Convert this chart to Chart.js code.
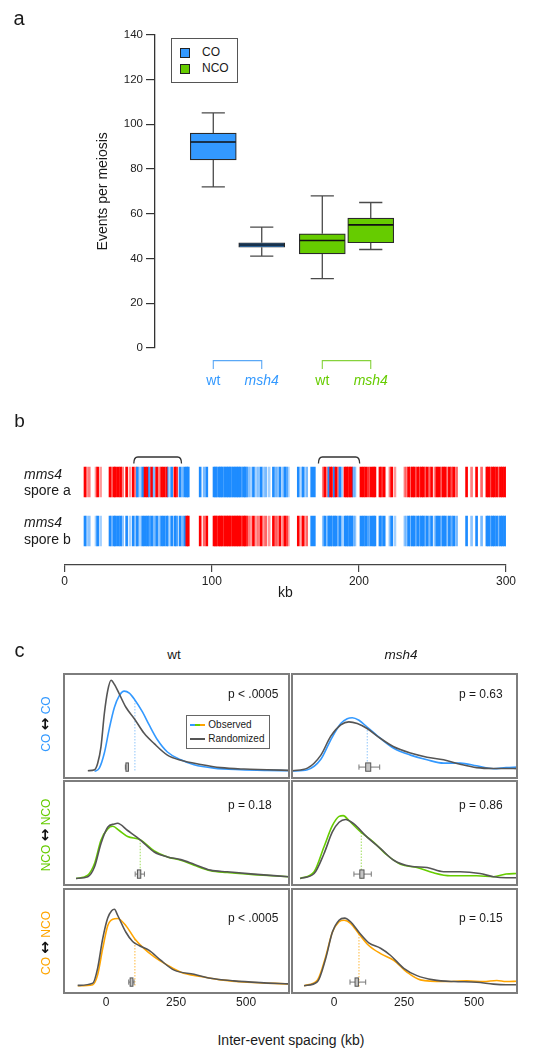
<!DOCTYPE html>
<html><head><meta charset="utf-8">
<script src="https://cdn.jsdelivr.net/npm/chart.js@4.4.1/dist/chart.umd.min.js"></script>
<style>
body{margin:0;background:#fff;width:537px;height:1050px;position:relative;overflow:hidden;font-family:'Liberation Sans',Arial,Helvetica,sans-serif;color:#1a1a1a}
canvas{position:absolute}
.t{position:absolute;white-space:nowrap;line-height:1;transform:translate(-50%,-50%)}
.l{position:absolute;white-space:nowrap;line-height:1;transform:translate(0,-50%)}
</style></head><body>
<script>
// ================= DATA =================
// Panel a: box plots
const boxGroup = ['CO','CO','NCO','NCO'];
const boxGeno  = ['wt','msh4','wt','msh4'];
const boxLow  = [72, 41, 31, 44];
const boxQ1   = [84, 45, 42, 47];
const boxMed  = [92, 46, 48, 55];
const boxQ3   = [96, 47, 51, 58];
const boxHigh = [105, 54, 68, 65];
const yTicksA = [0, 20, 40, 60, 80, 100, 120, 140];

// Panel b: marker positions (kb), genotype per spore (R = red parent, B = blue parent), marker intensity
const markerKb = [
 13.8,14.9,16.7,21.3,22.4,24.4,30.8,31.9,33.5,34.6,36.4,38.0,39.4,42.1,44.4,46.6,
 48.5,49.4,51.2,53.0,54.6,56.2,57.5,59.1,60.7,62.5,64.3,65.9,67.5,69.3,70.4,72.7,74.9,76.1,78.4,80.2,81.8,83.0,84.0,
 92.1,94.8,96.6,
 101.5,102.6,103.5,104.8,105.9,107.0,108.1,109.0,110.2,111.3,112.5,113.4,114.6,115.8,117.0,118.1,119.3,120.4,121.6,122.7,123.7,
 124.9,126.5,128.3,130.1,131.7,133.5,135.1,136.7,139.0,141.9,143.7,145.0,146.4,148.7,149.8,150.9,152.0,
 158.8,161.1,162.2,164.5,167.9,169.7,
 175.8,176.9,178.7,179.6,180.8,181.9,183.3,184.4,186.0,187.1,188.3,190.5,191.7,192.8,193.9,195.1,196.2,197.3,
 201.4,203.0,204.6,206.4,208.2,209.8,210.9,214.3,215.5,217.2,
 221.1,222.3,224.5,
 231.3,232.5,233.8,235.0,236.3,237.5,238.6,240.0,241.2,242.5,243.8,245.0,246.3,247.8,249.4,
 251.7,253.0,254.5,256.0,257.3,258.6,260.0,261.5,263.0,264.5,266.4,
 273.2,276.6,280.0,283.4,
 287.0,288.2,289.5,290.8,292.0,293.6,295.0,296.3,297.6,299.0,300.3,301.6,303.0,304.0
];
const sporeA = (
 'RRRRRRRRRRRRRRRR' +
 'RBBBRRBRBRRRRRBBRRBBBBB' +
 'BBB' +
 'BBBBBBBBBBBBBBBBBBBBB' +
 'BBBBBBBBBBBBBBBBB' +
 'BBBBBB' +
 'RRRBRRBRRBBRRRRRBB' +
 'RRRRRRRRRR' + 'RRR' + 'RRRRRRRRRRRRRRR' + 'RRRRRRRRRRR' + 'RRRR' + 'RRRRRRRRRRRRRR').split('');
const sporeB = (
 'BBBBBBBBBBBBBBBB' +
 'BBBBBBBBBBBBBBBBBBBBBRR' +
 'RRR' +
 'RRRRRRRRRRRRRRRRRRRRR' +
 'RRRRRRRRRRRRRRRRR' +
 'RRRRBB' +
 'BBBBBBBBBBBBBBBBBB' +
 'BBBBBBBBBB' + 'BBB' + 'BBBBBBBBBBBBBBB' + 'BBBBBBBBBBB' + 'BBBB' + 'BBBBBBBBBBBBBB').split('');
const markerAlpha = [
 1,.4,.5,.4,1,.4,1,.5,1,1,1,1,.5,1,.4,1,
 .5,1,.4,1,1,1,.8,1,.6,1,.5,1,1,1,.6,1,1,.8,1,.6,1,1,1,
 1,.6,1,
 1,1,.7,1,1,1,.6,1,1,1,1,.7,1,1,1,1,1,.6,1,1,.7,
 .5,.4,1,.4,.5,1,.4,.6,.4,1,.6,.4,1,.5,1,.6,.4,
 1,.5,1,.6,1,1,
 .5,1,.5,1,1,.8,1,1,.5,1,.4,1,1,.8,1,1,.5,.5,
 1,1,1,.8,1,1,1,1,.8,1,
 .5,1,.4,
 .5,.4,1,.6,1,1,.5,1,.7,1,1,.5,1,.6,1,
 .5,1,1,.6,1,1,.5,1,.7,1,.6,
 1,.5,1,.6,
 1,1,.7,1,1,1,.6,1,1,1,.7,1,1,1
];
const brackets = [[47, 79.4], [172.5, 200.5]];
const xTicksB = [0, 100, 200, 300];

// Panel c: density curves (x in kb, y in relative density)
const wtCOrandX = [-65,-41,-30,-18,-6,6,18,30,47,71,101,136,172,219,267,338,409,492,575,652];
const wtCOrandY = [7,8,14,30,62,84,94,90,81,68,57,43,33,22,17,13,10,8.6,8,7.3];
const wtCOobsX  = [-41,-24,-6,12,30,47,65,83,103,130,154,184,219,267,314,385,480,575,652];
const wtCOobsY  = [6.3,9.5,24,48,68,79,83.5,81.6,75,63.5,51,36.5,25,17.5,12.7,9.5,8,7.3,7];

const mCOrandX = [-148,-95,-47,-12,24,53,83,118,166,213,273,332,391,450,509,569,614,653];
const mCOrandY = [7,9.5,22,40,51,54,52.4,47.6,38,30,24,20,17.5,13.3,10,9.2,9.2,9];
const mCOobsX  = [-148,-95,-47,-12,24,47,65,89,118,166,213,273,332,391,450,509,569,614,653];
const mCOobsY  = [6.7,8,18,36.5,52.4,57,58,55.5,49,38,28.6,22,17.5,14.3,14.3,11.7,8.9,10,10.5];

const wtNCOrandX = [-107,-65,-41,-18,6,30,41,77,124,172,219,267,314,373,432,527,652];
const wtNCOrandY = [6.3,8,17.5,40,55.5,58.7,59.4,52.4,43,31.7,27,24.4,20,14.3,12.7,10.5,8];
const wtNCOobsX  = [-107,-65,-41,-18,6,24,47,77,122,172,219,267,314,373,432,527,652];
const wtNCOobsY  = [6.3,9.5,20.6,43,54,56.5,52.4,46.7,43.5,32.7,27,23.8,19,13.7,12,10,8];

const mNCOrandX = [-121,-71,-36,-6,18,41,71,118,166,213,273,332,391,450,521,569,614,653];
const mNCOrandY = [6.3,11,30,51,60.3,63,58.7,46,35,23.8,18,16.8,12.7,12.7,11,8,7,7];
const mNCOobsX  = [-121,-71,-36,-6,18,33,53,95,142,190,237,296,355,415,509,569,614,653];
const mNCOobsY  = [6.3,12.7,36.5,57,66,66.7,62,51,41,28.6,20,16.8,11.7,8.9,8.9,8,10.5,11];

const wtMixRandX = [-101,-47,-30,-12,6,20,30,41,71,95,118,154,195,243,314,373,456,551,652];
const wtMixRandY = [7.3,9.5,23.7,52,72,79,80.5,75,58.4,49.5,45.7,41,31.5,22,18,14.2,11.7,10,8.8];
const wtMixObsX  = [-101,-47,-30,-12,6,24,41,71,103,136,172,219,267,338,409,504,652];
const wtMixObsY  = [7,8,17.4,42.6,64.7,71,71.6,64.7,52,42.6,34.7,26.8,20,15.8,12.6,10.4,8.8];

const mMixRandX = [-107,-59,-30,-6,18,38,59,89,124,166,201,249,296,355,427,509,569,614,653];
const mMixRandY = [7,11,33,58.4,70,72,68.5,58.4,48.3,43,36.3,23.7,16.7,12.6,11,10.4,8.5,7.9,7.9];
const mMixObsX  = [-107,-59,-30,-6,18,36,59,89,124,166,213,261,308,391,474,533,581,614,653];
const mMixObsY  = [7,12.6,34.7,58.4,68.5,70,67,56.8,45.7,37.9,31.5,19.9,12.6,11,11.7,11,12,11,11.3];

// observed medians [kb, density at curve], randomized medians box [low, q1, q3, high]
const obsMedian = [[103,75],[118.6,49],[122,43.5],[97.3,50.5],[103,52],[89,56.8]];
const randBox   = [[69,71,76,78],[89,113,131,163],[104,112,124,137],[71,92,107,133],[81,86,96,100],[57,75,87,113]];
const pValues   = ['p < .0005','p = 0.63','p = 0.18','p = 0.86','p < .0005','p = 0.15'];
const xTicksC   = [0, 250, 500];

// ================= STYLE / LAYOUT =================
const FONT = "'Liberation Sans', Arial, Helvetica, sans-serif";
Chart.defaults.font.family = FONT;
Chart.defaults.color = '#1a1a1a';
const C = {CO:'#3399ff', NCO:'#66cc00', MIX:'#ffa500'};
const CLight = {CO:'#9acbfb', NCO:'#a6e06a', MIX:'#ffbf4d'};
const GREY = '#555555';

function mkCanvas(x, y, w, h){
  const c = document.createElement('canvas');
  c.width = w; c.height = h;
  c.style.left = x + 'px'; c.style.top = y + 'px';
  c.style.width = w + 'px'; c.style.height = h + 'px';
  document.body.appendChild(c);
  return c;
}
function txt(html, x, y, css, cls){
  const d = document.createElement('div');
  d.className = cls || 't';
  d.innerHTML = html;
  d.style.left = x + 'px'; d.style.top = y + 'px';
  if (css) d.style.cssText += css;
  document.body.appendChild(d);
  return d;
}
const base = {responsive:false, animation:false, devicePixelRatio:1, events:[],
  plugins:{legend:{display:false}, tooltip:{enabled:false}, title:{display:false}}};

// ================= PANEL A =================
const boxPos = [1, 2, 3.25, 4.25];
const boxPlugin = {
  id:'boxPlugin',
  afterDatasetsDraw(chart){
    const {ctx, scales:{x, y}} = chart;
    ctx.save();
    boxGroup.forEach((g, i) => {
      const px = x.getPixelForValue(boxPos[i]);
      ctx.strokeStyle = '#4a4a4a'; ctx.lineWidth = 1.3;
      ctx.beginPath();
      ctx.moveTo(px, y.getPixelForValue(boxHigh[i])); ctx.lineTo(px, y.getPixelForValue(boxQ3[i]));
      ctx.moveTo(px, y.getPixelForValue(boxQ1[i])); ctx.lineTo(px, y.getPixelForValue(boxLow[i]));
      ctx.moveTo(px-11.6, y.getPixelForValue(boxHigh[i])); ctx.lineTo(px+11.6, y.getPixelForValue(boxHigh[i]));
      ctx.moveTo(px-11.6, y.getPixelForValue(boxLow[i])); ctx.lineTo(px+11.6, y.getPixelForValue(boxLow[i]));
      ctx.stroke();
      ctx.strokeStyle = '#111'; ctx.lineWidth = 1.6;
      ctx.beginPath();
      ctx.moveTo(px-22.5, y.getPixelForValue(boxMed[i])); ctx.lineTo(px+22.5, y.getPixelForValue(boxMed[i]));
      ctx.stroke();
    });
    // group brackets and genotype labels
    const yb = y.bottom;
    [[0,1],[2,3]].forEach(([a,b]) => {
      const g = boxGroup[a];
      const xa = x.getPixelForValue(boxPos[a]), xb = x.getPixelForValue(boxPos[b]);
      ctx.strokeStyle = g === 'CO' ? '#5aa8f6' : '#86d23c'; ctx.lineWidth = 1.1;
      ctx.beginPath();
      ctx.moveTo(xa, yb+21); ctx.lineTo(xa, yb+12.6); ctx.lineTo(xb, yb+12.6); ctx.lineTo(xb, yb+21);
      ctx.stroke();
    });
    ctx.textAlign = 'center'; ctx.textBaseline = 'middle';
    boxGeno.forEach((gt, i) => {
      ctx.fillStyle = C[boxGroup[i]];
      ctx.font = (gt === 'wt' ? '' : 'italic ') + '14px ' + FONT;
      ctx.fillText(gt, x.getPixelForValue(boxPos[i]), yb + 33);
    });
    ctx.restore();
  }
};
new Chart(mkCanvas(0, 0, 537, 400), {
  type:'bar',
  data:{datasets:[{
    data: boxGroup.map((g, i) => ({x: boxPos[i], y: [boxQ1[i], boxQ3[i]]})),
    backgroundColor: boxGroup.map(g => C[g]),
    borderColor:'#2a2a2a', borderWidth:1.2, borderSkipped:false, barThickness:46, grouped:false
  }]},
  options:{...base,
    layout:{padding:{left:91, top:34.6, right:107, bottom:52}},
    scales:{
      x:{type:'linear', min:0.27, max:5, display:false},
      y:{min:0, max:140,
         afterBuildTicks: s => { s.ticks = yTicksA.map(v => ({value:v})); },
         afterFit: s => { s.width = 64; },
         grid:{display:true, drawOnChartArea:false, drawTicks:true, tickLength:9, color:'#333', lineWidth:1.2},
         border:{display:true, color:'#333', width:1.3},
         ticks:{padding:3, color:'#222', font:{size:11.5}},
         title:{display:true, text:'Events per meiosis', font:{size:14}, color:'#1a1a1a', padding:{top:4, bottom:4}}}
    }},
  plugins:[boxPlugin]
});
txt('a', 19, 18, 'font-size:20px');
// legend panel a
(function(){
  const lg = document.createElement('div');
  lg.style.cssText = 'position:absolute;left:171px;top:38px;width:65px;height:43px;border:1px solid #555;background:#fff';
  document.body.appendChild(lg);
  [['CO',52],['NCO',68]].forEach(([k, yy]) => {
    const sq = document.createElement('div');
    sq.style.cssText = `position:absolute;left:180px;top:${yy-4.5}px;width:8px;height:8px;border:1px solid #222;background:${C[k]}`;
    document.body.appendChild(sq);
    txt(k, 202, yy, 'font-size:12px', 'l');
  });
})();

// ================= PANEL B =================
const colRB = (g, a) => g === 'R' ? `rgba(255,0,0,${a})` : `rgba(30,140,255,${a})`;
const rowA = [68, 98], rowB = [19, 49];
const bracketPlugin = {
  id:'bracketPlugin',
  afterDraw(chart){
    const {ctx, scales:{x, y}} = chart;
    ctx.save(); ctx.strokeStyle = '#333'; ctx.lineWidth = 1.3;
    brackets.forEach(([a, b]) => {
      const xa = x.getPixelForValue(a), xb = x.getPixelForValue(b);
      const yt = y.getPixelForValue(108), ye = y.getPixelForValue(101.5);
      ctx.beginPath();
      ctx.moveTo(xa, ye); ctx.quadraticCurveTo(xa, yt, xa + 4, yt);
      ctx.lineTo(xb - 4, yt); ctx.quadraticCurveTo(xb, yt, xb, ye);
      ctx.stroke();
    });
    ctx.restore();
  }
};
new Chart(mkCanvas(0, 440, 537, 170), {
  type:'bar',
  data:{datasets:[
    {data: markerKb.map(k => ({x:k, y:rowA})), backgroundColor: sporeA.map((g,i) => colRB(g, markerAlpha[i])), barThickness:2, grouped:false, borderWidth:0},
    {data: markerKb.map(k => ({x:k, y:rowB})), backgroundColor: sporeB.map((g,i) => colRB(g, markerAlpha[i])), barThickness:2, grouped:false, borderWidth:0}
  ]},
  options:{...base,
    layout:{padding:{left:64.7, right:31, top:15, bottom:0}},
    scales:{
      x:{type:'linear', min:0, max:300, offset:false,
         afterBuildTicks: s => { s.ticks = xTicksB.map(v => ({value:v})); },
         afterFit: s => { s.height = 45; },
         grid:{display:true, offset:false, drawOnChartArea:false, drawTicks:true, tickLength:7, color:'#444', lineWidth:1.2},
         border:{display:true, color:'#444', width:1.3},
         ticks:{padding:2, color:'#222', font:{size:12}, maxRotation:0},
         title:{display:true, text:'kb', font:{size:14}, color:'#1a1a1a', padding:{top:0, bottom:8}}},
      y:{min:0, max:110, display:false}
    }},
  plugins:[bracketPlugin]
});
txt('b', 19.5, 420, 'font-size:19px');
txt('<i>mms4</i>', 24, 474, 'font-size:14px', 'l');
txt('spore a', 24, 489.5, 'font-size:14px', 'l');
txt('<i>mms4</i>', 24, 522, 'font-size:14px', 'l');
txt('spore b', 24, 539, 'font-size:14px', 'l');

// ================= PANEL C =================
const colX = [63.5, 291.5], rowY = [674, 781, 888.5];
const PW = 225, PH = 104;
const pTextDy = [21, 24.3, 29.2];
const panels = [
  {r:0, c:0, k:'CO',  rx:wtCOrandX,  ry:wtCOrandY,  ox:wtCOobsX,  oy:wtCOobsY},
  {r:0, c:1, k:'CO',  rx:mCOrandX,   ry:mCOrandY,   ox:mCOobsX,   oy:mCOobsY},
  {r:1, c:0, k:'NCO', rx:wtNCOrandX, ry:wtNCOrandY, ox:wtNCOobsX, oy:wtNCOobsY},
  {r:1, c:1, k:'NCO', rx:mNCOrandX,  ry:mNCOrandY,  ox:mNCOobsX,  oy:mNCOobsY},
  {r:2, c:0, k:'MIX', rx:wtMixRandX, ry:wtMixRandY, ox:wtMixObsX, oy:wtMixObsY},
  {r:2, c:1, k:'MIX', rx:mMixRandX,  ry:mMixRandY,  ox:mMixObsX,  oy:mMixObsY}
];
panels.forEach((p, i) => {
  const bottomRow = p.r === 2;
  const extra = bottomRow ? 25 : 0;
  const deco = {
    id:'deco'+i,
    beforeDatasetsDraw(chart){
      const {ctx, scales:{x, y}} = chart;
      ctx.save();
      const [mx, mt] = obsMedian[i];
      ctx.strokeStyle = CLight[p.k]; ctx.lineWidth = 1.1; ctx.setLineDash([1.5, 1.5]);
      ctx.beginPath();
      ctx.moveTo(x.getPixelForValue(mx), y.getPixelForValue(mt));
      ctx.lineTo(x.getPixelForValue(mx), y.getPixelForValue(6));
      ctx.stroke();
      ctx.setLineDash([]);
      const [lo, q1, q3, hi] = randBox[i];
      const yc = y.getPixelForValue(10.5), yt = y.getPixelForValue(14.5), yb = y.getPixelForValue(6.5);
      const yct = y.getPixelForValue(13), ycb = y.getPixelForValue(8);
      ctx.strokeStyle = '#777'; ctx.lineWidth = 1;
      ctx.beginPath();
      ctx.moveTo(x.getPixelForValue(lo), yc); ctx.lineTo(x.getPixelForValue(q1), yc);
      ctx.moveTo(x.getPixelForValue(q3), yc); ctx.lineTo(x.getPixelForValue(hi), yc);
      ctx.moveTo(x.getPixelForValue(lo), yct); ctx.lineTo(x.getPixelForValue(lo), ycb);
      ctx.moveTo(x.getPixelForValue(hi), yct); ctx.lineTo(x.getPixelForValue(hi), ycb);
      ctx.stroke();
      ctx.fillStyle = '#c4c4c4'; ctx.strokeStyle = '#555';
      const bx = x.getPixelForValue(q1), bw = Math.max(2.5, x.getPixelForValue(q3) - bx);
      ctx.fillRect(bx, yt, bw, yb - yt); ctx.strokeRect(bx, yt, bw, yb - yt);
      ctx.restore();
    },
    afterDraw(chart){
      const {ctx, chartArea:a} = chart;
      ctx.save();
      ctx.strokeStyle = '#7d7d7d'; ctx.lineWidth = 2;
      ctx.strokeRect(a.left, a.top, a.right - a.left, a.bottom - a.top);
      ctx.fillStyle = '#1a1a1a'; ctx.font = '12px ' + FONT;
      ctx.textAlign = 'left'; ctx.textBaseline = 'middle';
      ctx.fillText(pValues[i], a.left + 164 + (p.c ? 3 : 0), a.top + pTextDy[p.r]);
      ctx.restore();
    }
  };
  const xScale = {type:'linear', min:-150, max:653, display: bottomRow,
           afterBuildTicks: s => { s.ticks = xTicksC.map(v => ({value:v})); },
           grid:{display:false}, border:{display:false},
           ticks:{padding:-6, color:'#222', font:{size:12}, maxRotation:0}};
  if (bottomRow) xScale.afterFit = s => { s.height = 30; };
  new Chart(mkCanvas(colX[p.c] - 5, rowY[p.r] - 5, PW + 10, PH + 10 + extra), {
    type:'line',
    data:{datasets:[
      {data: p.rx.map((v, j) => ({x:v, y:p.ry[j]})), borderColor:GREY, borderWidth:1.6, pointRadius:0, cubicInterpolationMode:'monotone', fill:false},
      {data: p.ox.map((v, j) => ({x:v, y:p.oy[j]})), borderColor:C[p.k], borderWidth:1.6, pointRadius:0, cubicInterpolationMode:'monotone', fill:false}
    ]},
    options:{...base,
      layout:{padding:{left:5, right:5, top:5, bottom: bottomRow ? 0 : 5}},
      scales:{ x:xScale, y:{min:0, max:100, display:false} }},
    plugins:[deco]
  });
});
txt('c', 19.5, 649.5, 'font-size:20px');
txt('wt', 174, 655, 'font-size:13.5px');
txt('<i>msh4</i>', 401, 655, 'font-size:13.5px');
txt('Inter-event spacing (kb)', 291, 1040, 'font-size:14px');
// row labels (rotated)
[['CO','CO',C.CO,C.CO,724],['NCO','NCO',C.NCO,C.NCO,834.7],['CO','NCO',C.MIX,C.MIX,943]].forEach(([a,b,ca,cb,yy]) => {
  txt(`<span style="color:${ca}">${a}</span> <span style="color:#111;font-size:15px;font-weight:bold;font-family:'DejaVu Sans'">&#8596;</span> <span style="color:${cb}">${b}</span>`,
      45, yy, 'font-size:12px;transform:translate(-50%,-50%) rotate(-90deg)');
});
// legend in top-left panel c
(function(){
  const lg = document.createElement('div');
  lg.style.cssText = 'position:absolute;left:185.7px;top:715px;width:82px;height:32px;border:1px solid #666;background:#fff;z-index:2';
  document.body.appendChild(lg);
  const ob = document.createElement('div');
  ob.style.cssText = 'position:absolute;left:190px;top:724px;width:15px;height:2px;background:linear-gradient(90deg,#3399ff 0%,#3399ff 33%,#66cc00 33%,#66cc00 66%,#ffa500 66%);z-index:3';
  document.body.appendChild(ob);
  const gr = document.createElement('div');
  gr.style.cssText = 'position:absolute;left:190px;top:738px;width:15px;height:2px;background:#555;z-index:3';
  document.body.appendChild(gr);
  txt('Observed', 208.3, 725, 'font-size:10px;z-index:3', 'l');
  txt('Randomized', 208.3, 739, 'font-size:10px;z-index:3', 'l');
})();
</script>
</body></html>
